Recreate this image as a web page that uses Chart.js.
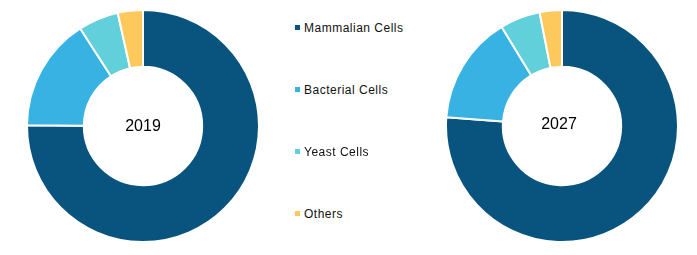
<!DOCTYPE html>
<html lang="en">
<head>
    <meta charset="UTF-8">
    <title>Expression Systems Share</title>
    <script src="https://cdn.jsdelivr.net/npm/chart.js@4/dist/chart.umd.min.js"></script>
    <style>
        body { margin: 0; background: #fff; font-family: "Liberation Sans", Arial, sans-serif; }
        .wrap { position: relative; width: 697px; height: 255px; overflow: hidden; }
        .pie { position: absolute; width: 234px; height: 234px; }
        .year { position: absolute; font-size: 16px; color: #000; transform: translate(-50%, -50%); }
        .legend { position: absolute; left: 295px; top: 0; font-size: 12px; letter-spacing: 0.5px; color: #111; }
        .legend div { position: absolute; white-space: nowrap; transform: translateY(-50%); }
        .legend span { display: inline-block; width: 5px; height: 5px; margin-right: 4px; vertical-align: 2px; }
    </style>
</head>
<body>
<div class="wrap">
    <div class="pie" style="left:25.5px; top:8.5px;"><canvas id="chart2019"></canvas></div>
    <div class="pie" style="left:445px; top:8.7px;"><canvas id="chart2027"></canvas></div>
    <div class="year" style="left:143px; top:126px;">2019</div>
    <div class="year" style="left:559px; top:124px;">2027</div>
    <div class="legend" id="legend"></div>
</div>

<script>
    // data
    const categories = ["Mammalian Cells", "Bacterial Cells", "Yeast Cells", "Others"];
    const share2019 = [75.1, 15.8, 5.6, 3.5];
    const share2027 = [76.2, 15.1, 5.6, 3.1];
    const colors = ["#08547f", "#38b2e3", "#62d0da", "#fec95c"];

    function makeDoughnut(id, values) {
        new Chart(id, {
            type: "doughnut",
            data: {
                labels: categories,
                datasets: [{
                    data: values,
                    backgroundColor: colors,
                    borderColor: "#ffffff",
                    borderWidth: 2
                }]
            },
            options: {
                responsive: true,
                maintainAspectRatio: false,
                animation: false,
                cutout: "51%",
                plugins: {
                    legend: { display: false },
                    tooltip: { enabled: false }
                }
            }
        });
    }

    makeDoughnut("chart2019", share2019);
    makeDoughnut("chart2027", share2027);

    // legend rows
    const legendY = [28, 90, 152, 214];
    const legend = document.getElementById("legend");
    categories.forEach((name, i) => {
        const row = document.createElement("div");
        row.style.top = legendY[i] + "px";
        row.innerHTML = '<span style="background:' + colors[i] + '"></span>' + name;
        legend.appendChild(row);
    });
</script>
</body>
</html>
